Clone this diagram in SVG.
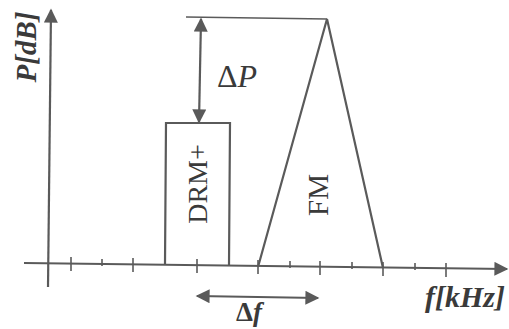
<svg xmlns="http://www.w3.org/2000/svg" width="509" height="329" viewBox="0 0 509 329">
<style>
.ln{stroke:#5a5a5a;stroke-width:2.2;fill:none}
.tk{stroke:#5a5a5a;stroke-width:1.6}
.tx{font-family:"Liberation Serif","DejaVu Serif",serif;fill:#3a3a3a}
.it{font-style:italic}
</style>
<defs>
<marker id="ah2" viewBox="0 0 10 10" refX="9" refY="5" markerWidth="16" markerHeight="14" orient="auto-start-reverse" markerUnits="userSpaceOnUse">
<path d="M0,0 L10,5 L0,10 Z" fill="#5a5a5a"/>
</marker>
</defs>
<rect width="509" height="329" fill="#fff"/>
<g id="connectors">
<line id="yaxis" class="ln" x1="48" y1="287" x2="51" y2="10" marker-end="url(#ah2)"/>
<line id="xaxis" class="ln" x1="24" y1="263" x2="507" y2="269" marker-end="url(#ah2)"/>
<g id="ticks">
<line class="tk" x1="71" y1="257" x2="71" y2="271"/>
<line class="tk" x1="102" y1="259" x2="102" y2="266"/>
<line class="tk" x1="133" y1="258" x2="133" y2="272"/>
<line class="tk" x1="197" y1="259" x2="197" y2="273"/>
<line class="tk" x1="258" y1="260" x2="258" y2="274"/>
<line class="tk" x1="290" y1="261" x2="290" y2="268"/>
<line class="tk" x1="320" y1="261" x2="320" y2="275"/>
<line class="tk" x1="352" y1="262" x2="352" y2="269"/>
<line class="tk" x1="383" y1="262" x2="383" y2="276"/>
<line class="tk" x1="415" y1="263" x2="415" y2="270"/>
<line class="tk" x1="446" y1="263" x2="446" y2="277"/>
</g>
<line id="toplevel" class="ln" x1="186" y1="17" x2="327" y2="19" style="stroke-width:1.6"/>
<line id="dP" class="ln" x1="201" y1="19" x2="199" y2="122" marker-start="url(#ah2)" marker-end="url(#ah2)"/>
<line id="df" class="ln" x1="197" y1="296" x2="318" y2="298" marker-start="url(#ah2)" marker-end="url(#ah2)"/>
</g>
<g id="drm">
<polyline class="ln" points="165,264 166,123 230,123 229,265"/>
<text class="tx" transform="translate(207,184) rotate(-90)" text-anchor="middle" font-size="28">DRM+</text>
</g>
<g id="fm">
<polyline class="ln" points="258,267 327,19 383,268"/>
<text class="tx" transform="translate(328,195) rotate(-90)" text-anchor="middle" font-size="29">FM</text>
</g>
<g id="labels">
<text class="tx it" transform="translate(36,47) rotate(-90)" text-anchor="middle" font-size="29" font-weight="bold">P[dB]</text>
<text class="tx" x="217" y="87" font-size="32"><tspan>Δ</tspan><tspan class="it">P</tspan></text>
<text class="tx" x="236" y="321" font-size="27" font-weight="bold"><tspan>Δ</tspan><tspan class="it">f</tspan></text>
<text class="tx it" x="425" y="307" font-size="30" font-weight="bold">f[kHz]</text>
</g>
</svg>
